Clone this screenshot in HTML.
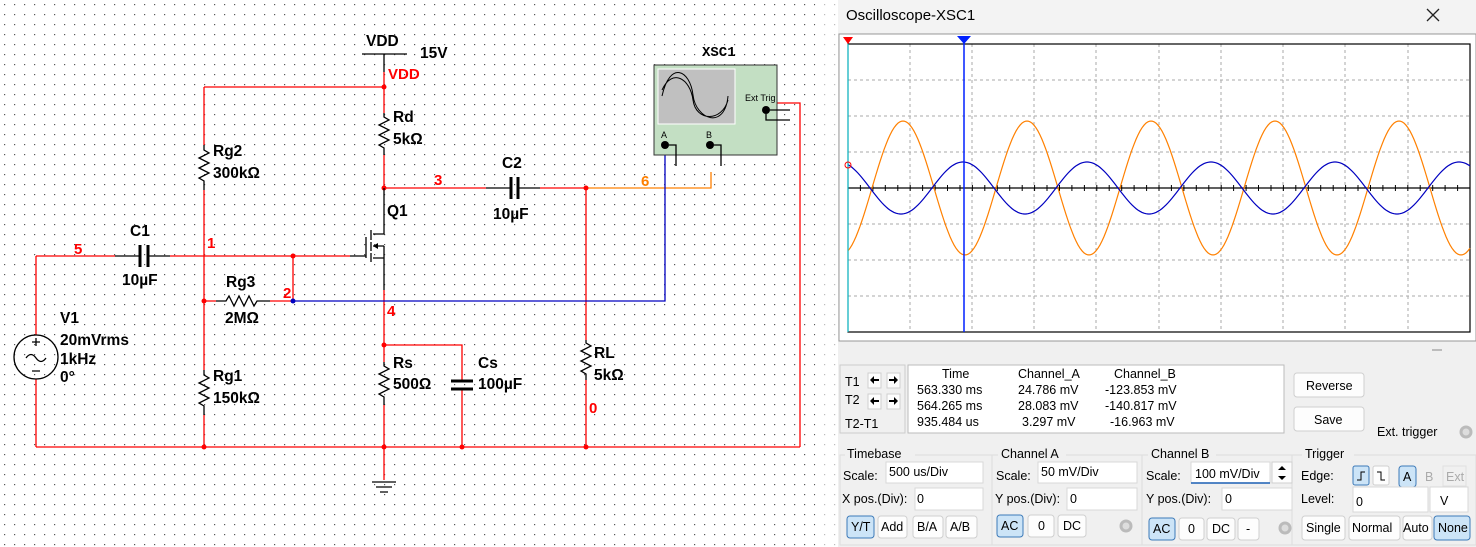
<!DOCTYPE html>
<html><head><meta charset="utf-8"><style>
html,body{margin:0;padding:0;width:1476px;height:547px;overflow:hidden;background:#fff}
svg{display:block}
.cl{font-family:"Liberation Sans",Arial,sans-serif;font-weight:bold;font-size:15.5px;fill:#000}
.nr{font-family:"Liberation Sans",Arial,sans-serif;font-weight:bold;font-size:15px;fill:#f00}
.ui{font-family:"Liberation Sans",Arial,sans-serif;font-size:12.5px;fill:#000}
.w{stroke:#f00;stroke-width:1.3;fill:none}
.k{stroke:#000;stroke-width:1.3;fill:none}
.btn{fill:#fdfdfd;stroke:#cfcfcf}
.sel{fill:#cce4f7;stroke:#3d7ab8}
.fld{fill:#fff;stroke:#d8d8d8}
</style></head><body>
<svg width="1476" height="547" xmlns="http://www.w3.org/2000/svg">
<defs>
<pattern id="dots" width="10" height="10" patternUnits="userSpaceOnUse"><rect x="4" y="4" width="1.2" height="1.2" fill="#555"/></pattern>
</defs>
<rect width="838" height="547" fill="url(#dots)"/>

<path class="w" d="M384 72 V113 M204 87 H384 M204 87 V145 M204 190 V370 M204 415 V447 M36 447 H800 M36 379 V447 M36 256 V335 M36 256 H115 M170 256 H350 M293 256 V301 M204 301 H216 M270 301 H293 M384 155 V188 M384 188 H486 M540 188 H586 M586 188 V340 M586 380 V447 M384 290 V362 M384 345 H462 V380 M462 390 V447 M384 405 V480 M776 103 H800 V447"/>
<path d="M586 188 H711 V172" stroke="#ff8000" stroke-width="1.3" fill="none"/>
<path d="M293 301 H665 V148" stroke="#0000c0" stroke-width="1.3" fill="none"/>
<g fill="#f00"><circle cx="384" cy="87" r="2.5"/><circle cx="384" cy="188" r="2.5"/><circle cx="586" cy="188" r="2.5"/><circle cx="293" cy="256" r="2.5"/><circle cx="204" cy="301" r="2.5"/><circle cx="384" cy="345" r="2.5"/><circle cx="204" cy="447" r="2.5"/><circle cx="384" cy="447" r="2.5"/><circle cx="462" cy="447" r="2.5"/><circle cx="586" cy="447" r="2.5"/></g>
<circle cx="293" cy="301" r="2.5" fill="#0000c0"/>

<path class="k" d="M362 54 H407 M384 54 V72"/>
<text class="cl" x="366" y="46">VDD</text><text class="cl" x="420" y="58">15V</text>
<text class="nr" x="388" y="79">VDD</text>
<path class="k" d="M384 113 V117 l5 3 l-10 5 l10 5 l-10 5 l10 5 l-10 5 l5 3 V155"/>
<path class="k" d="M204 145 V150 l5 3 l-10 5 l10 5 l-10 5 l10 5 l-10 5 l5 3 V190"/>
<path class="k" d="M204 370 V375 l5 3 l-10 5 l10 5 l-10 5 l10 5 l-10 5 l5 3 V415"/>
<path class="k" d="M384 362 V366 l5 3 l-10 5 l10 5 l-10 5 l10 5 l-10 5 l5 3 V405"/>
<path class="k" d="M586 340 V343 l5 3 l-10 5 l10 5 l-10 5 l10 5 l-10 5 l5 3 V380"/>
<path class="k" d="M216 301 H226 l3 -5 l5 10 l5 -10 l5 10 l5 -10 l5 10 l3 -5 H270"/>
<path class="k" d="M115 256 H139 M149 256 H170"/><path d="M140 245 V267 M148 245 V267" stroke="#000" stroke-width="3"/>
<path class="k" d="M486 188 H510 M519 188 H540"/><path d="M511 177 V199 M518 177 V199" stroke="#000" stroke-width="3"/>
<path d="M451 381 H473 M451 389 H473" stroke="#000" stroke-width="3"/><path class="k" d="M462 381 V380 M462 389 V390"/>
<path class="k" d="M384 188 V234 H373 M373 258 H384 V290 M350 256 H366 M366 237 V258 M371 230 V240 M371 242 V251 M371 253 V262 M384 246 H373 M384 246 V258"/>
<path d="M373 246 l5 -3 v6 z" fill="#000"/>
<path class="k" d="M372 482 H396 M376 487 H392 M380 492 H388"/>
<circle cx="36" cy="357" r="22" class="k"/>
<path class="k" d="M26 358 q5 -7 10 0 q5 7 10 0 M32 342 H40 M36 338 V346 M32 371 H40"/>
<text class="cl" x="393" y="122">Rd</text><text class="cl" x="393" y="144">5kΩ</text>
<text class="cl" x="213" y="156">Rg2</text><text class="cl" x="213" y="178">300kΩ</text>
<text class="cl" x="213" y="381">Rg1</text><text class="cl" x="213" y="403">150kΩ</text>
<text class="cl" x="226" y="287">Rg3</text><text class="cl" x="225" y="323">2MΩ</text>
<text class="cl" x="130" y="236">C1</text><text class="cl" x="122" y="285">10µF</text>
<text class="cl" x="502" y="168">C2</text><text class="cl" x="493" y="219">10µF</text>
<text class="cl" x="387" y="216">Q1</text>
<text class="cl" x="60" y="323">V1</text><text class="cl" x="60" y="345">20mVrms</text><text class="cl" x="60" y="364">1kHz</text><text class="cl" x="60" y="382">0°</text>
<text class="cl" x="393" y="368">Rs</text><text class="cl" x="393" y="389">500Ω</text>
<text class="cl" x="478" y="368">Cs</text><text class="cl" x="478" y="389">100µF</text>
<text class="cl" x="594" y="358">RL</text><text class="cl" x="594" y="380">5kΩ</text>
<text class="nr" x="74" y="254">5</text><text class="nr" x="207" y="248">1</text><text class="nr" x="283" y="298">2</text>
<text class="nr" x="434" y="185">3</text><text class="nr" x="387" y="316">4</text><text class="nr" x="589" y="413">0</text>
<text x="641" y="186" style="font-family:'Liberation Sans',sans-serif;font-weight:bold;font-size:15px;fill:#ff8000">6</text>
<text x="702" y="56" style="font-family:'Liberation Mono',monospace;font-weight:bold;font-size:14px">XSC1</text>
<rect x="654" y="65" width="123" height="90" fill="#c3dfc3" stroke="#333"/>
<rect x="658" y="69" width="77" height="55" fill="#c0c0c0" stroke="#fff"/>
<path d="M662 96 C670 60,690 70,693 95 S725 130,728 96 M662 90 C672 68,690 78,693 100 S722 122,728 100" stroke="#000" fill="none"/>
<text x="745" y="101" style="font-family:'Liberation Sans',sans-serif;font-size:9px">Ext Trig</text>
<text x="661" y="138" style="font-family:'Liberation Sans',sans-serif;font-size:9px">A</text><text x="706" y="138" style="font-family:'Liberation Sans',sans-serif;font-size:9px">B</text>
<g fill="#000"><circle cx="665" cy="145" r="4"/><circle cx="710" cy="145" r="4"/><circle cx="766" cy="110" r="4"/></g>
<path class="k" d="M669 145 H676 V166 M714 145 H721 V166 M770 110 H790 M766 114 V120 H790"/>
<rect x="815" y="0" width="23" height="547" fill="#fff" opacity="0.6"/>

<rect x="838" y="0" width="638" height="547" fill="#f0f0f0"/>
<rect x="838" y="0" width="638" height="33" fill="#f3f3f3"/>
<text x="846" y="20" style="font-family:'Liberation Sans',sans-serif;font-size:15px">Oscilloscope-XSC1</text>
<path d="M1427 9 L1439 21 M1439 9 L1427 21" stroke="#222" stroke-width="1.3"/>
<rect x="839" y="34" width="637" height="307" fill="#fff" stroke="#999"/>
<g stroke="#aaa" stroke-dasharray="3,3">
<path d="M910 44V332M972 44V332M1034 44V332M1096 44V332M1159 44V332M1221 44V332M1283 44V332M1345 44V332M1408 44V332"/>
<path d="M848 80H1470M848 116H1470M848 152H1470M848 224H1470M848 260H1470M848 296H1470"/>
</g>
<rect x="848" y="44" width="622" height="288" fill="none" stroke="#000" stroke-width="1.2"/>
<path d="M848 188H1470" stroke="#000" stroke-width="1.2"/>
<path id="ticks" stroke="#000"/>
<polyline id="orn" fill="none" stroke="#ff8000" stroke-width="1.2"/>
<polyline id="blu" fill="none" stroke="#0000c0" stroke-width="1.2"/>
<path d="M848 44V332" stroke="#00d0e0"/><path d="M964 40V332" stroke="#0020ff" stroke-width="1.5"/>
<path d="M843 37h10l-5 7z" fill="#f00"/><path d="M957 36h14l-7 8z" fill="#0020ff"/>
<circle cx="848" cy="165" r="3" fill="none" stroke="#f00"/>
<path d="M1432 350H1442" stroke="#888"/>
<rect x="840" y="365" width="65" height="68" fill="#f0f0f0" stroke="#ccc"/>
<text class="ui" x="845" y="386">T1</text><text class="ui" x="845" y="404">T2</text><text class="ui" x="845" y="428">T2-T1</text>
<g class="btn"><rect x="868" y="373" width="13" height="15"/><rect x="887" y="373" width="13" height="15"/><rect x="868" y="394" width="13" height="15"/><rect x="887" y="394" width="13" height="15"/></g>
<g fill="#000"><path d="M870 380l4-4v3h5v2h-5v3z"/><path d="M898 380l-4-4v3h-5v2h5v3z"/><path d="M870 401l4-4v3h5v2h-5v3z"/><path d="M898 401l-4-4v3h-5v2h5v3z"/></g>
<rect x="908" y="365" width="376" height="68" fill="#fff" stroke="#bbb"/>
<text class="ui" x="942" y="378">Time</text><text class="ui" x="1018" y="378">Channel_A</text><text class="ui" x="1114" y="378">Channel_B</text>
<text class="ui" x="917" y="394">563.330 ms</text><text class="ui" x="1018" y="394">24.786 mV</text><text class="ui" x="1105" y="394">-123.853 mV</text>
<text class="ui" x="917" y="410">564.265 ms</text><text class="ui" x="1018" y="410">28.083 mV</text><text class="ui" x="1105" y="410">-140.817 mV</text>
<text class="ui" x="917" y="426">935.484 us</text><text class="ui" x="1022" y="426">3.297 mV</text><text class="ui" x="1110" y="426">-16.963 mV</text>
<rect class="btn" x="1294" y="373" width="70" height="24" rx="3"/><text class="ui" x="1306" y="390">Reverse</text>
<rect class="btn" x="1294" y="407" width="70" height="24" rx="3"/><text class="ui" x="1314" y="424">Save</text>
<text class="ui" x="1377" y="436">Ext. trigger</text><circle cx="1466" cy="432" r="5" fill="#ddd" stroke="#bbb" stroke-width="3"/>
<g fill="none" stroke="#ddd"><rect x="840" y="455" width="152" height="90"/><rect x="992" y="455" width="150" height="90"/><rect x="1142" y="455" width="150" height="90"/><rect x="1292" y="455" width="184" height="90"/></g>
<g fill="#f0f0f0"><rect x="845" y="448" width="70" height="12"/><rect x="998" y="448" width="68" height="12"/><rect x="1148" y="448" width="68" height="12"/><rect x="1302" y="448" width="52" height="12"/></g>
<text class="ui" x="847" y="458">Timebase</text><text class="ui" x="1001" y="458">Channel A</text><text class="ui" x="1151" y="458">Channel B</text><text class="ui" x="1305" y="458">Trigger</text>
<text class="ui" x="843" y="480">Scale:</text><rect class="fld" x="886" y="462" width="97" height="21"/><text class="ui" x="889" y="476">500 us/Div</text>
<text class="ui" x="842" y="503">X pos.(Div):</text><rect class="fld" x="915" y="488" width="68" height="22"/><text class="ui" x="917" y="503">0</text>
<text class="ui" x="996" y="480">Scale:</text><rect class="fld" x="1038" y="462" width="99" height="21"/><text class="ui" x="1041" y="476">50 mV/Div</text>
<text class="ui" x="995" y="503">Y pos.(Div):</text><rect class="fld" x="1067" y="488" width="70" height="22"/><text class="ui" x="1070" y="503">0</text>
<text class="ui" x="1146" y="480">Scale:</text><rect class="fld" x="1191" y="462" width="79" height="21"/><path d="M1191 483H1270" stroke="#1a5fb4" stroke-width="1.5"/><text class="ui" x="1195" y="478">100 mV/Div</text>
<rect class="btn" x="1272" y="462" width="20" height="21"/><path d="M1278 470l4-4 4 4zM1278 476l4 4 4-4z" fill="#000"/>
<text class="ui" x="1146" y="503">Y pos.(Div):</text><rect class="fld" x="1222" y="488" width="70" height="22"/><text class="ui" x="1225" y="503">0</text>
<text class="ui" x="1301" y="480">Edge:</text>
<rect class="sel" x="1353" y="466" width="16" height="19" rx="2"/><rect class="btn" x="1373" y="466" width="16" height="19" rx="2"/><rect class="sel" x="1399" y="466" width="17" height="21" rx="3"/>
<path d="M1357 480h4v-8h4M1377 472h4v8h4" stroke="#000" fill="none"/><text class="ui" x="1403" y="481">A</text>
<text x="1425" y="481" class="ui" style="fill:#aaa">B</text><rect x="1443" y="466" width="23" height="20" fill="none" stroke="#e0e0e0"/><text x="1446" y="481" class="ui" style="fill:#aaa">Ext</text>
<text class="ui" x="1301" y="503">Level:</text><rect class="fld" x="1353" y="487" width="75" height="25"/><text class="ui" x="1356" y="506">0</text>
<rect class="fld" x="1430" y="487" width="38" height="25"/><text class="ui" x="1440" y="505">V</text>
<rect class="sel" x="847" y="516" width="27" height="22" rx="3"/><text class="ui" x="851" y="531">Y/T</text>
<rect class="btn" x="878" y="516" width="29" height="22" rx="3"/><text class="ui" x="881" y="531">Add</text>
<rect class="btn" x="913" y="516" width="30" height="22" rx="3"/><text class="ui" x="917" y="531">B/A</text>
<rect class="btn" x="946" y="516" width="31" height="22" rx="3"/><text class="ui" x="950" y="531">A/B</text>
<rect class="sel" x="997" y="515" width="26" height="22" rx="3"/><text class="ui" x="1001" y="530">AC</text>
<rect class="btn" x="1028" y="515" width="26" height="22" rx="3"/><text class="ui" x="1038" y="530">0</text>
<rect class="btn" x="1058" y="515" width="28" height="22" rx="3"/><text class="ui" x="1063" y="530">DC</text>
<circle cx="1126" cy="526" r="5" fill="#ddd" stroke="#bbb" stroke-width="3"/>
<rect class="sel" x="1149" y="518" width="26" height="22" rx="3"/><text class="ui" x="1153" y="533">AC</text>
<rect class="btn" x="1179" y="518" width="25" height="22" rx="3"/><text class="ui" x="1188" y="533">0</text>
<rect class="btn" x="1207" y="518" width="28" height="22" rx="3"/><text class="ui" x="1212" y="533">DC</text>
<rect class="btn" x="1238" y="518" width="21" height="22" rx="3"/><text class="ui" x="1246" y="533">-</text>
<circle cx="1285" cy="528" r="5" fill="#ddd" stroke="#bbb" stroke-width="3"/>
<rect class="btn" x="1302" y="516" width="43" height="24" rx="3"/><text class="ui" x="1306" y="532">Single</text>
<rect class="btn" x="1349" y="516" width="51" height="24" rx="3"/><text class="ui" x="1352" y="532">Normal</text>
<rect class="btn" x="1403" y="516" width="29" height="24" rx="3"/><text class="ui" x="1403" y="532">Auto</text>
<rect class="sel" x="1434" y="516" width="36" height="24" rx="3"/><text class="ui" x="1438" y="532">None</text>
</svg>
<script>
(function(){
var o=[],b=[],t="";
for(var x=848;x<=1470;x+=2){
 o.push(x+","+(188-67*Math.cos(2*Math.PI*(x-903)/124)).toFixed(1));
 b.push(x+","+(188-26*Math.cos(2*Math.PI*(x-963)/124)).toFixed(1));
}
for(var x=848;x<=1470;x+=12.44){t+="M"+x.toFixed(1)+" 185V191";}
document.getElementById("orn").setAttribute("points",o.join(" "));
document.getElementById("blu").setAttribute("points",b.join(" "));
document.getElementById("ticks").setAttribute("d",t);
})();
</script>
</body></html>
